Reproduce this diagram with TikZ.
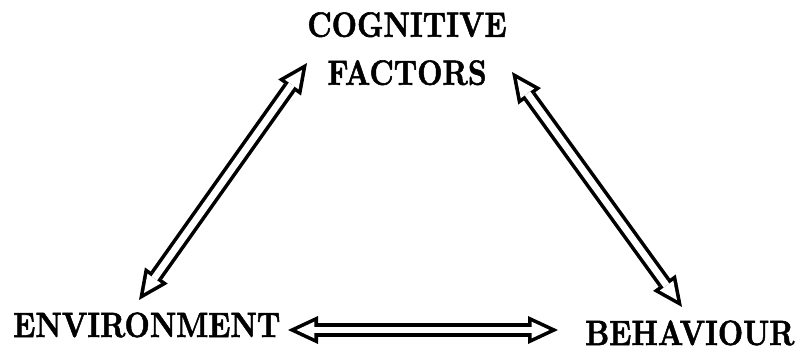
\documentclass[tikz,border=0pt]{standalone}
\usepackage{fontspec}
\usepackage{amsmath}
\usepackage{graphicx}
\usetikzlibrary{arrows.meta, positioning, calc}

\newfontfamily\heavyfont[FakeBold=1.6]{lmroman10-bold.otf}
\newcommand{\tallcaps}[1]{\scalebox{1}[1.2]{#1}}

\begin{document}
\begin{tikzpicture}[x=0.75pt, y=-0.75pt,
    txt/.style={inner sep=0pt, font=\heavyfont\fontsize{22}{36}\selectfont},
    dblarrow/.style={draw=black, line width=10.5pt,
        {Triangle[length=22.5pt, width=21pt, line width=0pt]}-{Triangle[length=22.5pt, width=21pt, line width=0pt]},
        postaction={draw=white, line width=5.1pt, shorten <=6.4pt, shorten >=6.4pt,
            {Triangle[length=13.4pt, width=12.5pt, line width=0pt]}-{Triangle[length=13.4pt, width=12.5pt, line width=0pt]}}}]
    \useasboundingbox (0,0) rectangle (795,352);
    % \fill[red!10] (0,0) rectangle (795,352);
    \node[txt, anchor=north, align=center] (cog) at (407,12) {\tallcaps{COGNITIVE}\\\tallcaps{FACTORS}};
    \node[txt, anchor=base west] (env) at (13,337) {\tallcaps{ENVIRONMENT}};
    \node[txt, anchor=base west] (beh) at (585,345) {\tallcaps{BEHAVIOUR}};

    \path ($(env.base west)+(126,-37)$) edge [dblarrow] ($(cog.north)+(-100,51)$);
    \path ($(cog.north)+(105,60)$) edge [dblarrow] ($(beh.base west)+(97,-38)$);
    \path ($(env.base west)+(275,-7)$) edge [dblarrow] ($(beh.base west)+(-27,-15)$);
\end{tikzpicture}
\end{document}
